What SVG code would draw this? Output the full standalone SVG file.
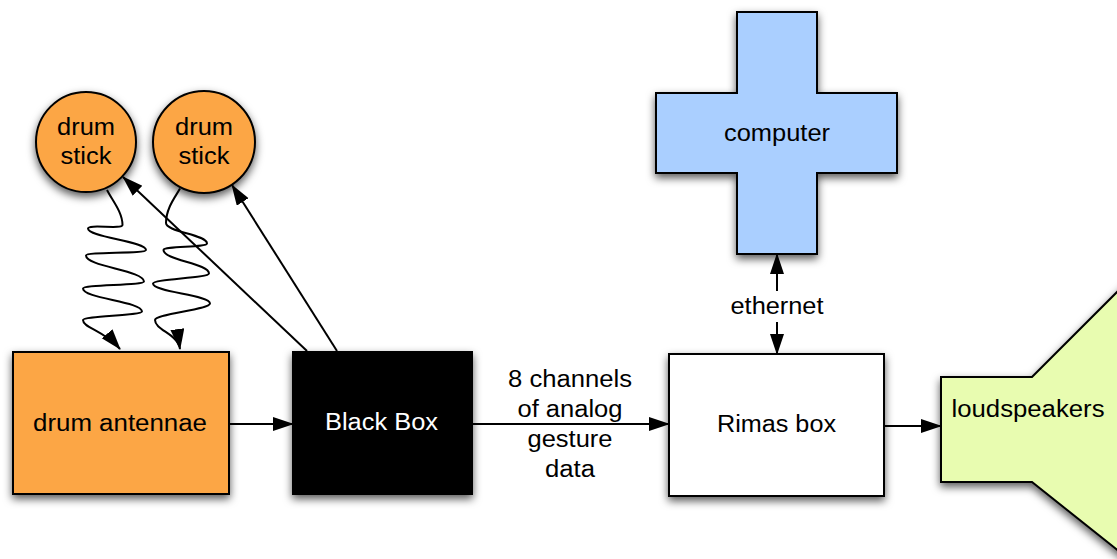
<svg xmlns="http://www.w3.org/2000/svg" width="1117" height="559" viewBox="0 0 1117 559">
<style>
.lbl{font-family:"Liberation Sans",Arial,sans-serif;font-size:23.5px;fill:#000;text-anchor:middle}
.wlbl{font-family:"Liberation Sans",Arial,sans-serif;font-size:23.5px;fill:#fff;text-anchor:middle}
.shape{stroke:#000;stroke-width:2}
.edge{fill:none;stroke:#000;stroke-width:2}
</style>
<defs>
<filter id="sh" x="-20%" y="-20%" width="140%" height="150%">
<feDropShadow dx="0" dy="4" stdDeviation="4" flood-color="#000" flood-opacity="0.65"/>
</filter>
<marker id="ah" markerUnits="userSpaceOnUse" markerWidth="22" markerHeight="15" refX="20" refY="7" orient="auto" viewBox="0 0 22 15">
<path d="M0,0 L21,7 L0,14 z" fill="#000"/>
</marker>
</defs>
<rect width="1117" height="559" fill="#fff"/>

<g id="loudspeakers">
<polygon class="shape" filter="url(#sh)" fill="#E8FCB0" points="941,377 1032,377 1145,264 1145,572 1032,482 941,482"/>
<text class="lbl" x="1028" y="417" textLength="153" lengthAdjust="spacingAndGlyphs">loudspeakers</text>
</g>

<g id="computer">
<polygon class="shape" filter="url(#sh)" fill="#AACFFF" points="737,12 817,12 817,93 897,93 897,173 817,173 817,254 737,254 737,173 656,173 656,93 737,93"/>
<text class="lbl" x="777" y="141" textLength="106" lengthAdjust="spacingAndGlyphs">computer</text>
</g>

<g id="drumstick1">
<circle class="shape" filter="url(#sh)" fill="#FCA645" cx="86" cy="142" r="50"/>
<text class="lbl" x="86" y="135" textLength="58" lengthAdjust="spacingAndGlyphs">drum</text>
<text class="lbl" x="86" y="164" textLength="51" lengthAdjust="spacingAndGlyphs">stick</text>
</g>

<g id="drumstick2">
<circle class="shape" filter="url(#sh)" fill="#FCA645" cx="204" cy="142" r="51"/>
<text class="lbl" x="204" y="135" textLength="58" lengthAdjust="spacingAndGlyphs">drum</text>
<text class="lbl" x="204" y="164" textLength="51" lengthAdjust="spacingAndGlyphs">stick</text>
</g>

<g id="antennae">
<rect class="shape" filter="url(#sh)" fill="#FCA645" x="13" y="352" width="216" height="142"/>
<text class="lbl" x="120" y="431" textLength="174" lengthAdjust="spacingAndGlyphs">drum antennae</text>
</g>

<g id="blackbox">
<rect class="shape" filter="url(#sh)" fill="#000" x="293" y="352" width="179" height="142"/>
<text class="wlbl" x="381.5" y="430" textLength="113" lengthAdjust="spacingAndGlyphs">Black Box</text>
</g>

<g id="rimas">
<rect class="shape" filter="url(#sh)" fill="#fff" x="669" y="354" width="215" height="142"/>
<text class="lbl" x="776.5" y="432" textLength="119" lengthAdjust="spacingAndGlyphs">Rimas box</text>
</g>

<g id="connectors">
<path class="edge" marker-end="url(#ah)" d="M107,190 C112,200 122.5,212 122.5,225 C122.5,229.5 88,224 88,228.5 C88,237.5 146,241 146,250 C146,254 86,251.5 86,255.5 C86,266.5 144,270.5 144,281.5 C144,285.5 83,284.5 83,288.5 C83,298.5 142,301.5 142,311.5 C142,315.5 83,316 83,320 C83,328 104,330 120,349"/>
<path class="edge" marker-end="url(#ah)" d="M180,188.5 C176,196 166,208 166,223 C166,232 207,234.5 207,243.5 C207,247.5 163.5,246 163.5,250 C163.5,260 209,263.5 209,273.5 C209,278 153,279 153,283.5 C153,292.5 210,294.5 210,303.5 C210,309.5 155,314 155,320 C155,330 178,334 180,349"/>
<line class="edge" marker-end="url(#ah)" x1="307" y1="351" x2="123" y2="177"/>
<line class="edge" marker-end="url(#ah)" x1="337" y1="351" x2="232" y2="185"/>
<line class="edge" marker-end="url(#ah)" x1="229" y1="424" x2="293" y2="424"/>
<line class="edge" marker-end="url(#ah)" x1="472" y1="424" x2="669" y2="424"/>
<line class="edge" marker-end="url(#ah)" x1="884" y1="426" x2="941" y2="426"/>
<line class="edge" marker-end="url(#ah)" x1="777" y1="291" x2="777" y2="254"/>
<line class="edge" marker-end="url(#ah)" x1="777" y1="322" x2="777" y2="354"/>
<text class="lbl" x="777" y="314" textLength="93" lengthAdjust="spacingAndGlyphs">ethernet</text>
<text class="lbl" x="570" y="387" textLength="124" lengthAdjust="spacingAndGlyphs">8 channels</text>
<text class="lbl" x="570" y="417" textLength="105" lengthAdjust="spacingAndGlyphs">of analog</text>
<text class="lbl" x="570" y="447" textLength="85" lengthAdjust="spacingAndGlyphs">gesture</text>
<text class="lbl" x="570" y="477" textLength="50" lengthAdjust="spacingAndGlyphs">data</text>
</g>
</svg>
